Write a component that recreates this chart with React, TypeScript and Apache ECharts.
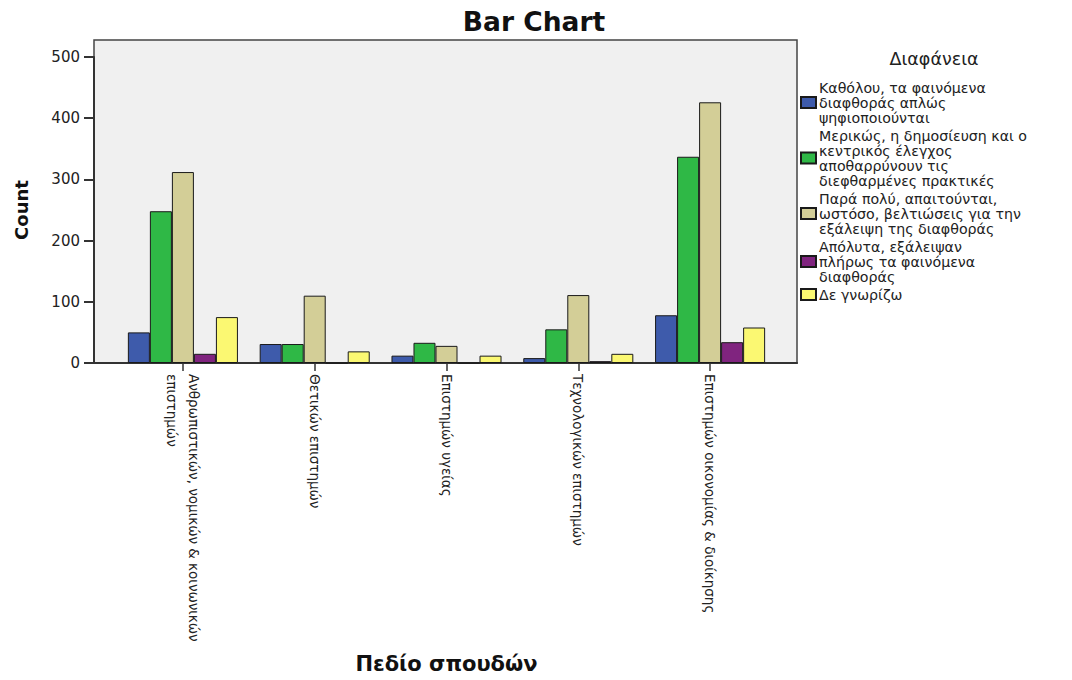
import React, { useEffect, useRef } from "react";
import * as echarts from "echarts";

const categories = [
  "Ανθρωπιστικών, νομικών & κοινωνικών\nεπιστημών",
  "Θετικών επιστημών",
  "Επιστημών υγείας",
  "Τεχνολογικών επιστημών",
  "Επιστημών οικονομίας & διοίκησης",
];

const seriesNames = [
  "Καθόλου, τα φαινόμενα\nδιαφθοράς απλώς\nψηφιοποιούνται",
  "Μερικώς, η δημοσίευση και ο\nκεντρικός έλεγχος\nαποθαρρύνουν τις\nδιεφθαρμένες πρακτικές",
  "Παρά πολύ, απαιτούνται,\nωστόσο, βελτιώσεις για την\nεξάλειψη της διαφθοράς",
  "Απόλυτα, εξάλειψαν\nπλήρως τα φαινόμενα\nδιαφθοράς",
  "Δε γνωρίζω",
];

const notAtAll = [50, 31, 12, 8, 78];
const partly = [248, 31, 33, 55, 337];
const veryMuch = [312, 110, 28, 111, 426];
const absolutely = [15, 0, 0, 3, 34];
const dontKnow = [75, 19, 12, 15, 58];

const seriesValues = [notAtAll, partly, veryMuch, absolutely, dontKnow];
const colors = ["#3e5bab", "#2fb846", "#d3ce97", "#80247f", "#fbf872"];

const yMin = 0;
const yMax = 500;
const yStep = 100;

const FONT = "DejaVu Sans";

export default function App() {
  const ref = useRef<HTMLDivElement>(null);

  useEffect(() => {
    if (!ref.current) return;
    const chart = echarts.init(ref.current, undefined, { renderer: "svg" });
    const option: any = {
      animation: false,
      backgroundColor: "#ffffff",
      textStyle: { fontFamily: FONT },
      graphic: [
        {
          type: "text",
          x: 534,
          y: 21,
          style: {
            text: "Bar Chart",
            fontSize: 26.5,
            fontWeight: "bold",
            fontFamily: FONT,
            fill: "#111",
            align: "center",
            verticalAlign: "middle",
          },
        },
        {
          type: "text",
          x: 934,
          y: 59,
          style: {
            text: "Διαφάνεια",
            fontSize: 17.5,
            fontFamily: FONT,
            fill: "#222",
            align: "center",
            verticalAlign: "middle",
          },
        },
      ],
      legend: {
        orient: "vertical",
        left: 800,
        top: 80,
        padding: 0,
        itemWidth: 15,
        itemHeight: 11,
        itemGap: 3,
        selectedMode: false,
        icon: "rect",
        data: seriesNames,
        textStyle: {
          fontSize: 14.2,
          lineHeight: 15,
          color: "#222",
          fontFamily: FONT,
          padding: [0, 0, 0, -2],
        },
      },
      grid: [
        {
          left: 94,
          top: 40,
          width: 703,
          height: 323,
          show: true,
          backgroundColor: "#f0f0f0",
          borderColor: "#444",
          borderWidth: 1.5,
        },
        { left: 117, top: 57, width: 659, height: 306 },
      ],
      xAxis: [
        {
          gridIndex: 0,
          type: "value",
          min: 0,
          max: 1,
          axisLine: { show: true, lineStyle: { color: "#333", width: 2 } },
          axisTick: { show: false },
          axisLabel: { show: false },
          splitLine: { show: false },
        },
        {
          gridIndex: 1,
          type: "category",
          data: categories,
          axisLine: { show: false },
          axisTick: {
            show: true,
            alignWithLabel: true,
            length: 8,
            lineStyle: { color: "#333", width: 1.5 },
          },
          axisLabel: {
            rotate: -90,
            margin: 11,
            fontSize: 13.5,
            lineHeight: 22,
            color: "#222",
            fontFamily: FONT,
            interval: 0,
          },
          name: "Πεδίο σπουδών",
          nameLocation: "middle",
          nameGap: 290,
          nameTextStyle: {
            fontSize: 21,
            fontWeight: "bold",
            color: "#111",
            fontFamily: FONT,
          },
        },
      ],
      yAxis: [
        {
          gridIndex: 0,
          type: "value",
          min: 0,
          max: 1,
          show: false,
          splitLine: { show: false },
        },
        {
          gridIndex: 1,
          type: "value",
          min: yMin,
          max: yMax,
          interval: yStep,
          offset: 23,
          axisLine: { show: true, lineStyle: { color: "#333", width: 2 } },
          axisTick: {
            show: true,
            length: 10,
            lineStyle: { color: "#333", width: 2 },
          },
          axisLabel: {
            margin: 14,
            fontSize: 15,
            color: "#222",
            fontFamily: FONT,
          },
          splitLine: { show: false },
          name: "Count",
          nameLocation: "middle",
          nameGap: 64,
          nameTextStyle: {
            fontSize: 18,
            fontWeight: "bold",
            color: "#111",
            fontFamily: FONT,
          },
        },
      ],
      series: seriesNames.map((name, i) => ({
        name,
        type: "bar",
        xAxisIndex: 1,
        yAxisIndex: 1,
        data: seriesValues[i],
        barGap: "0%",
        barCategoryGap: "16.5%",
        itemStyle: { color: colors[i], borderColor: "#1a1a1a", borderWidth: 1 },
      })),
    };
    chart.setOption(option);
    return () => chart.dispose();
  }, []);

  return (
    <div
      ref={ref}
      style={{ position: "fixed", left: 0, top: 0, width: 1072, height: 680 }}
    />
  );
}
